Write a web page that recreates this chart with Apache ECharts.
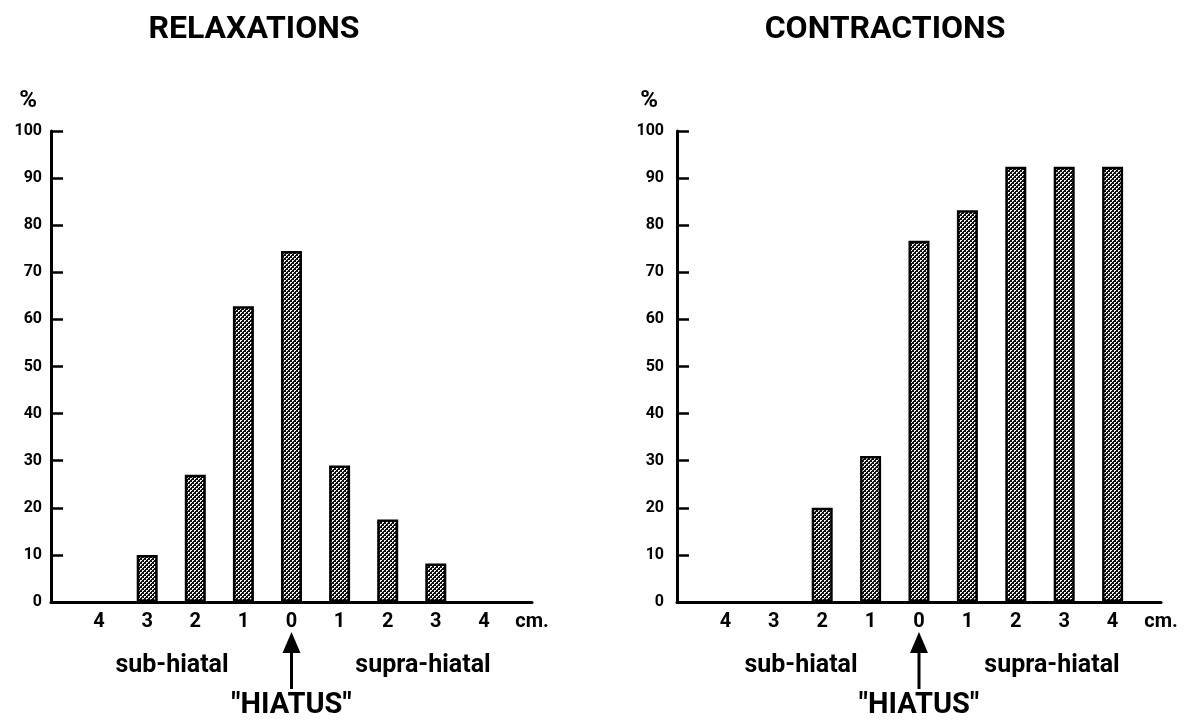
<!DOCTYPE html>
<html>
<head>
<meta charset="utf-8">
<script src="https://cdn.jsdelivr.net/npm/echarts@6/dist/echarts.min.js"></script>
<style>
html, body { margin: 0; padding: 0; background: #fff; }
#main { width: 1191px; height: 721px; }
</style>
</head>
<body>
<div id="main"></div>
<script>
// x categories (blank slot at start, 'cm.' unit at the end)
var relaxCats = ['', '4', '3', '2', '1', '0', '1', '2', '3', '4', 'cm.'];
var contractCats = ['', '4', '3', '2', '1', '0', '1', '2', '3', '4', 'cm.'];
// percent values per distance from the hiatus
var relaxValues = [null, null, 10, 27, 62.8, 74.5, 29, 17.5, 8.2, null, null];
var contractValues = [null, null, null, 20, 31, 76.7, 83.2, 92.4, 92.4, 92.4, null];
var yTicks = [0, 10, 20, 30, 40, 50, 60, 70, 80, 90, 100];

var FONT = 'Roboto';

// dotted fill like the printed screen tone
var pat = document.createElement('canvas');
pat.width = 4;
pat.height = 4;
var pctx = pat.getContext('2d');
pctx.fillStyle = '#111';
pctx.fillRect(0, 0, 4, 4);
pctx.fillStyle = '#f4f4f4';
[[0, 0], [1, 0], [0, 1], [2, 2], [3, 2], [2, 3]].forEach(function(p) {
    pctx.fillRect(p[0], p[1], 1, 1);
});

var myEchart = echarts.init(document.getElementById('main'));

function makeX(gridIndex, cats) {
    return {
        type: 'category',
        gridIndex: gridIndex,
        data: cats,
        boundaryGap: false,
        axisLine: { lineStyle: { color: '#000', width: 3 } },
        axisTick: { show: false },
        splitLine: { show: false },
        axisLabel: {
            interval: 0,
            margin: 10,
            color: '#000',
            fontFamily: FONT,
            fontWeight: 'bold',
            fontSize: 20
        }
    };
}

function makeY(gridIndex, gapRight, labelMargin) {
    return {
        type: 'value',
        gridIndex: gridIndex,
        min: yTicks[0],
        max: yTicks[yTicks.length - 1],
        interval: 10,
        name: '%',
        nameLocation: 'end',
        nameGap: 18,
        nameTextStyle: {
            color: '#000',
            fontFamily: FONT,
            fontWeight: 'bold',
            fontSize: 24,
            align: 'right',
            padding: [0, gapRight, 0, 0]
        },
        axisLine: { show: true, lineStyle: { color: '#000', width: 3 } },
        axisTick: { show: true, inside: true, length: 12, lineStyle: { color: '#000', width: 2.5 } },
        splitLine: { show: false },
        axisLabel: {
            margin: labelMargin,
            color: '#000',
            fontFamily: FONT,
            fontWeight: 'bold',
            fontSize: 16
        }
    };
}

function barSeries(idx, values) {
    return {
        type: 'bar',
        xAxisIndex: idx,
        yAxisIndex: idx,
        data: values,
        barWidth: 21,
        itemStyle: {
            color: { image: pat, repeat: 'repeat' },
            borderColor: '#000',
            borderWidth: 2.5
        },
        emphasis: { disabled: true }
    };
}

var option = {
    animation: false,
    backgroundColor: '#fff',
    title: [{
        text: 'RELAXATIONS',
        left: 249,
        top: 25,
        textAlign: 'center',
        textVerticalAlign: 'middle',
        textStyle: { color: '#000', fontFamily: FONT, fontWeight: 'bold', fontSize: 32 }
    }, {
        text: 'CONTRACTIONS',
        left: 880,
        top: 25,
        textAlign: 'center',
        textVerticalAlign: 'middle',
        textStyle: { color: '#000', fontFamily: FONT, fontWeight: 'bold', fontSize: 32 }
    }],
    grid: [
        { left: 51, right: 659, top: 131, bottom: 119, containLabel: false },
        { left: 677, right: 30, top: 131, bottom: 119, containLabel: false }
    ],
    xAxis: [makeX(0, relaxCats), makeX(1, contractCats)],
    yAxis: [makeY(0, 14, 9), makeY(1, 19, 13)],
    series: [barSeries(0, relaxValues), barSeries(1, contractValues)]
};
myEchart.setOption(option);

// hiatus annotations under each chart, placed at the "0" category
function hiatusGroup(axisIdx, subX, supraX) {
    var x = myEchart.convertToPixel({ xAxisIndex: axisIdx }, 5);
    var textStyle = { fill: '#000', fontFamily: FONT, fontWeight: 'bold', fontSize: 25, align: 'center', verticalAlign: 'middle' };
    return [{
        type: 'text',
        x: subX, y: 666,
        style: Object.assign({ text: 'sub-hiatal' }, textStyle)
    }, {
        type: 'text',
        x: supraX, y: 666,
        style: Object.assign({ text: 'supra-hiatal' }, textStyle)
    }, {
        type: 'text',
        x: x, y: 706,
        style: Object.assign({}, textStyle, { text: '"HIATUS"', fontSize: 29 })
    }, {
        type: 'line',
        shape: { x1: x, y1: 650, x2: x, y2: 689 },
        style: { stroke: '#000', lineWidth: 3 }
    }, {
        type: 'polygon',
        shape: { points: [[x, 632], [x - 9, 653], [x + 9, 653]] },
        style: { fill: '#000' }
    }];
}

myEchart.setOption({
    graphic: hiatusGroup(0, 172, 423).concat(hiatusGroup(1, 801, 1052))
});
</script>
</body>
</html>
